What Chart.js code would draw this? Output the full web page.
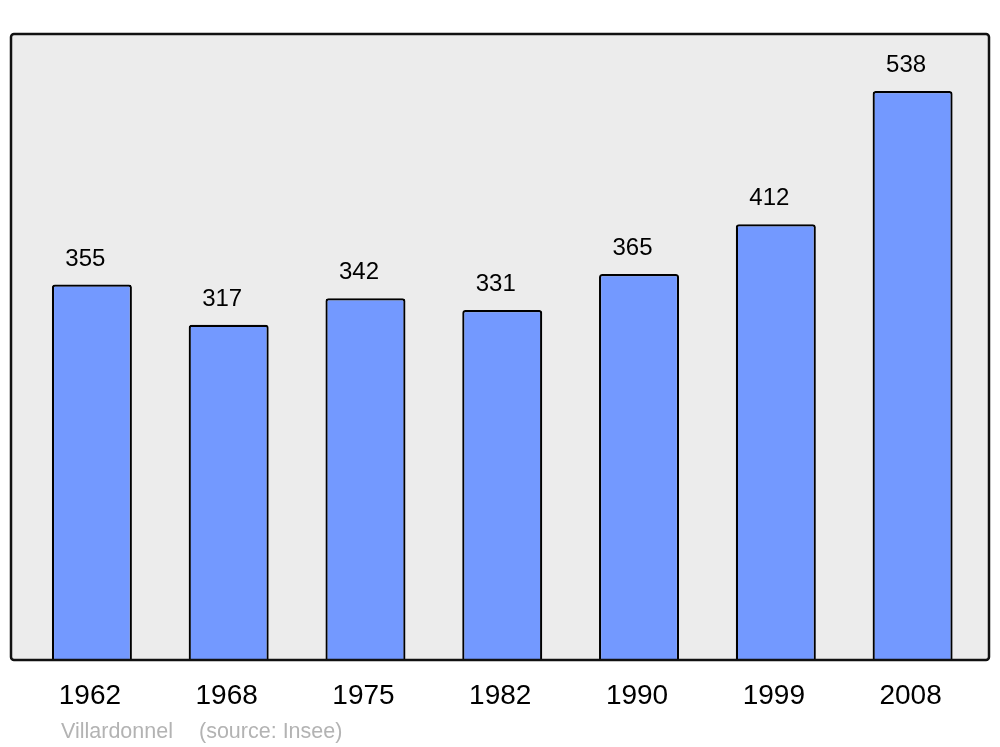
<!DOCTYPE html>
<html>
<head>
<meta charset="utf-8">
<script src="https://cdn.jsdelivr.net/npm/chart.js@4/dist/chart.umd.min.js"></script>
<style>
  html, body { margin: 0; padding: 0; background: #fff; }
  #wrap { width: 1000px; height: 747px; position: relative; }
</style>
</head>
<body>
<div id="wrap"><canvas id="popChart" width="1000" height="747"></canvas></div>
<script>
  var years = ['1962', '1968', '1975', '1982', '1990', '1999', '2008'];
  var population = [355, 317, 342, 331, 365, 412, 538];
  var townName = 'Villardonnel';
  var sourceText = '(source: Insee)';

  // gray frame behind the bars, outline drawn after so it covers the bar bottoms
  var framePlugin = {
    id: 'frame',
    beforeDatasetsDraw: function (chart) {
      var a = chart.chartArea, ctx = chart.ctx;
      ctx.save();
      ctx.beginPath();
      ctx.roundRect(a.left - 12.5, a.top, (a.right + 8) - (a.left - 12.5), a.bottom - a.top, 3);
      ctx.fillStyle = '#ececec';
      ctx.fill();
      ctx.restore();
    },
    afterDatasetsDraw: function (chart) {
      var a = chart.chartArea, ctx = chart.ctx;
      ctx.save();
      ctx.beginPath();
      ctx.roundRect(a.left - 12.5, a.top, (a.right + 8) - (a.left - 12.5), a.bottom - a.top, 3);
      ctx.lineWidth = 2.5;
      ctx.strokeStyle = '#111';
      ctx.stroke();

      // values above bars
      var meta = chart.getDatasetMeta(0);
      ctx.fillStyle = '#000';
      ctx.font = '24px "Liberation Sans", Arial, sans-serif';
      ctx.textAlign = 'center';
      ctx.textBaseline = 'alphabetic';
      meta.data.forEach(function (bar, i) {
        ctx.fillText(String(population[i]), bar.x - 6.5, bar.y - 19);
      });

      // footer
      ctx.fillStyle = '#b3b3b3';
      ctx.font = '21.5px "Liberation Sans", Arial, sans-serif';
      ctx.textAlign = 'left';
      ctx.fillText(townName, 61, 738);
      ctx.fillText(sourceText, 199, 738);
      ctx.restore();
    }
  };

  var ctx = document.getElementById('popChart').getContext('2d');
  var chart = new Chart(ctx, {
    type: 'bar',
    data: {
      labels: years,
      datasets: [{
        data: population,
        backgroundColor: '#7399ff',
        borderColor: '#000',
        borderWidth: 2.2,
        borderRadius: 3,
        borderSkipped: 'bottom',
        barPercentage: 0.585,
        categoryPercentage: 1
      }]
    },
    options: {
      responsive: false,
      animation: false,
      layout: { padding: { left: 23.5, right: 19, top: 34, bottom: 0 } },
      plugins: { legend: { display: false }, tooltip: { enabled: false } },
      scales: {
        x: {
          grid: { display: false, drawTicks: false },
          border: { display: false },
          ticks: {
            color: '#000',
            padding: 19,
            labelOffset: -2,
            font: { family: '"Liberation Sans", Arial, sans-serif', size: 28 }
          },
          afterFit: function (scale) { scale.height = 87; }
        },
        y: { display: false, min: 0, max: 592 }
      }
    },
    plugins: [framePlugin]
  });
</script>
</body>
</html>
